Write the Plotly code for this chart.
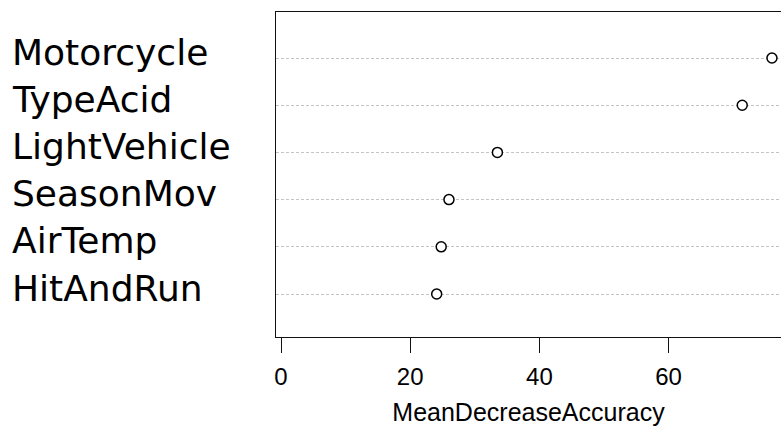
import plotly.graph_objects as go

variables = ["HitAndRun", "AirTemp", "SeasonMov", "LightVehicle", "TypeAcid", "Motorcycle"]
mean_decrease_accuracy = [24.1, 24.8, 26.0, 33.5, 71.4, 76.0]
positions = [1, 2, 3, 4, 5, 6]
x_ticks = [0, 20, 40, 60, 80]

fig = go.Figure()
fig.add_trace(go.Scatter(
    x=mean_decrease_accuracy, y=positions, mode="markers",
    marker=dict(size=10, color="white", line=dict(color="black", width=1.5)),
    showlegend=False, hoverinfo="x+text", text=variables,
    cliponaxis=False,
))

for v, p in zip(variables, positions):
    fig.add_annotation(
        x=-0.5267, xref="paper", y=p, yref="y", text=v, showarrow=False,
        xanchor="left", yanchor="middle", yshift=6,
        font=dict(family="DejaVu Sans", size=36, color="black"),
    )

fig.update_layout(
    width=781, height=430,
    margin=dict(l=276, r=0, t=12, b=93),
    paper_bgcolor="white", plot_bgcolor="white",
    font=dict(family="Liberation Sans, Arial", size=24, color="black"),
    xaxis=dict(
        range=[-0.774, 77.4], tickvals=x_ticks, ticks="outside", ticklen=15,
        tickwidth=1, tickcolor="#111", showline=True, linecolor="#111", linewidth=1.3,
        mirror=True, showgrid=False, zeroline=False,
        tickfont=dict(size=24), ticklabelstandoff=3,
        title=dict(text="MeanDecreaseAccuracy", font=dict(size=25), standoff=14),
    ),
    yaxis=dict(
        range=[0.089, 6.975], tickvals=positions, showticklabels=False,
        showline=True, linecolor="#111", linewidth=1.3, mirror=False,
        showgrid=True, gridcolor="#c4c4c4", gridwidth=1, griddash="3px,2px",
        zeroline=False, ticks="",
    ),
)

fig.write_html(
    "out.html",
    config={"displayModeBar": False},
    post_script="document.body.style.margin='0px';document.body.style.overflow='hidden';",
)
